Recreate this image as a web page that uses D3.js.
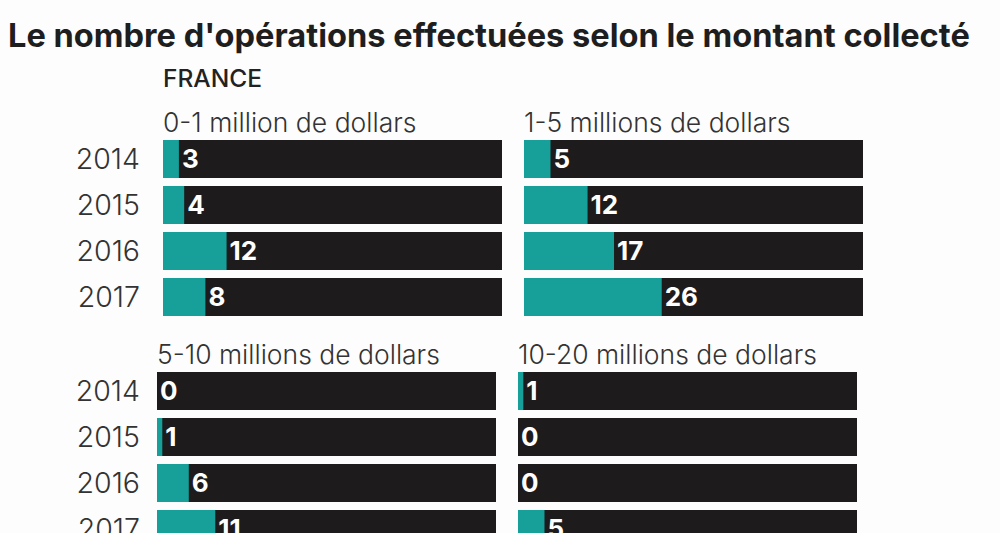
<!DOCTYPE html>
<html>
<head>
<meta charset="utf-8">
<script src="https://cdn.jsdelivr.net/npm/d3@7"></script>
<style>
  body { margin: 0; background: #fdfdfd; }
  svg { display: block; }
  text { font-family: Inter, Roboto, "Noto Sans", sans-serif; }
</style>
</head>
<body>
<svg id="chart" width="1000" height="533"></svg>
<script>
// Data
const years = ["2014", "2015", "2016", "2017"];
const panelTitles = [
  "0-1 million de dollars",
  "1-5 millions de dollars",
  "5-10 millions de dollars",
  "10-20 millions de dollars"
];
const values01 = [3, 4, 12, 8];
const values15 = [5, 12, 17, 26];
const values510 = [0, 1, 6, 11];
const values1020 = [1, 0, 0, 5];
const series = [values01, values15, values510, values1020];

// Layout
const panels = [
  { x: 163, y: 140 },
  { x: 524, y: 140 },
  { x: 157, y: 372 },
  { x: 518, y: 372 }
];
const barWidth = 339;
const step = 46, barH = 38;
const teal = "#17a09a", dark = "#1d1b1b";

const svg = d3.select("#chart");

svg.append("text")
  .attr("x", 8).attr("y", 47)
  .style("font-size", "32.6px").style("font-weight", 700)
  .style("fill", "#1e1e1e")
  .text("Le nombre d'opérations effectuées selon le montant collecté");

svg.append("text")
  .attr("x", 163).attr("y", 87)
  .style("font-size", "24.5px").style("font-weight", 500)
  .style("fill", "#222")
  .text("FRANCE");

const x = d3.scaleLinear().domain([0, 64]).range([0, barWidth]);

panels.forEach((p, i) => {
  const y = d3.scaleBand()
    .domain(years)
    .range([p.y, p.y + step * years.length - (step - barH)])
    .paddingInner((step - barH) / step);

  const g = svg.append("g");

  g.append("text")
    .attr("x", p.x).attr("y", p.y - 8)
    .style("font-size", "26.5px").style("font-weight", 300)
    .style("fill", "#333")
    .text(panelTitles[i]);

  // year labels only on the left column
  if (i % 2 === 0) {
    g.selectAll(".year")
      .data(years)
      .join("text")
      .attr("class", "year")
      .attr("x", 140)
      .attr("y", d => y(d) + y.bandwidth() / 2)
      .attr("dy", "0.36em")
      .attr("text-anchor", "end")
      .style("font-size", "28.5px").style("font-weight", 300)
      .style("fill", "#333")
      .text(d => d);
  }

  const rows = g.selectAll(".row")
    .data(series[i].map((v, k) => ({ year: years[k], value: v })))
    .join("g")
    .attr("class", "row");

  rows.append("rect")
    .attr("x", p.x)
    .attr("y", d => y(d.year))
    .attr("width", barWidth)
    .attr("height", y.bandwidth())
    .attr("fill", dark);

  rows.append("rect")
    .attr("x", p.x)
    .attr("y", d => y(d.year))
    .attr("width", d => x(d.value))
    .attr("height", y.bandwidth())
    .attr("fill", teal);

  rows.append("text")
    .attr("x", d => p.x + x(d.value) + 3)
    .attr("y", d => y(d.year) + y.bandwidth() / 2)
    .attr("dy", "0.36em")
    .style("font-size", "26px").style("font-weight", 700)
    .style("fill", "#fff")
    .text(d => d.value);
});
</script>
</body>
</html>
